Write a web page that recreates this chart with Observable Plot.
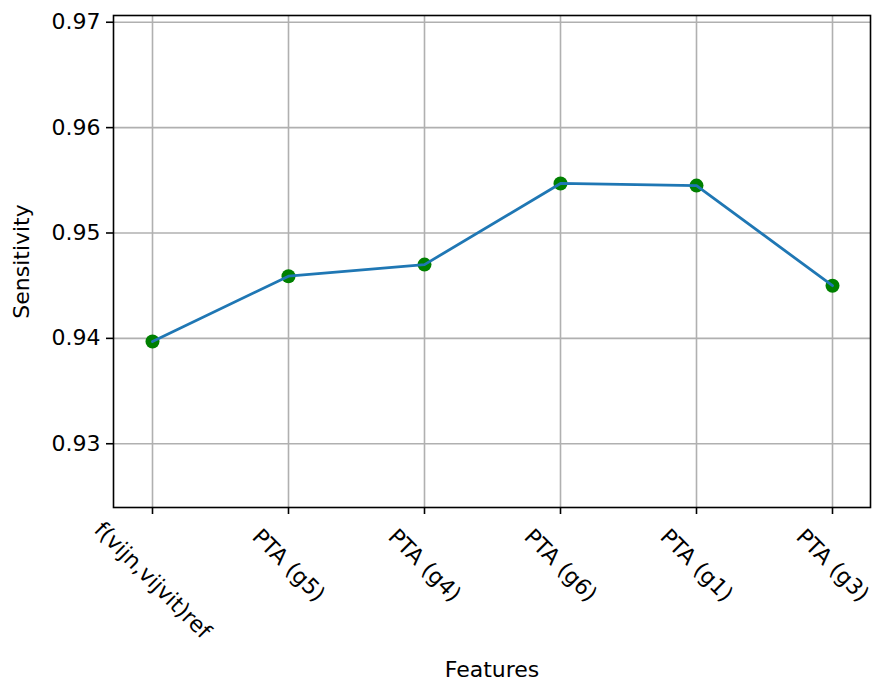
<!DOCTYPE html>
<html>
<head>
<meta charset="utf-8">
<script src="https://cdn.jsdelivr.net/npm/d3@7"></script>
<script src="https://cdn.jsdelivr.net/npm/@observablehq/plot@0.6"></script>
<style>
  html, body { margin: 0; padding: 0; background: #fff; }
  #chart { width: 878px; height: 681px; }
</style>
</head>
<body>
<div id="chart"></div>
<script>
const categories = ["f(vijn,vijvit)ref", "PTA (g5)", "PTA (g4)", "PTA (g6)", "PTA (g1)", "PTA (g3)"];
const sensitivity = [0.9397, 0.9459, 0.9470, 0.9547, 0.9545, 0.9450];
const yTicks = [0.93, 0.94, 0.95, 0.96, 0.97];
const yDomain = [0.92395, 0.97064];
const xLabel = "Features";
const yLabel = "Sensitivity";

const data = categories.map((c, i) => ({feature: c, value: sensitivity[i]}));

const font = "DejaVu Sans, sans-serif";
const fs = 22;

const chart = Plot.plot({
  width: 878,
  height: 681,
  marginLeft: 113,
  marginRight: 8,
  marginTop: 15,
  marginBottom: 174,
  style: {fontFamily: font, fontSize: fs + "px", color: "#000", background: "#fff"},
  x: {type: "point", domain: categories, padding: 0.265},
  y: {domain: yDomain},
  marks: [
    Plot.gridY(yTicks, {stroke: "#b0b0b0", strokeOpacity: 1, strokeWidth: 1.6}),
    Plot.gridX(categories, {stroke: "#b0b0b0", strokeOpacity: 1, strokeWidth: 1.6}),
    Plot.dot(data, {x: "feature", y: "value", r: 7, fill: "green", stroke: "none"}),
    Plot.line(data, {x: "feature", y: "value", stroke: "#1f77b4", strokeWidth: 2.8}),
    Plot.frame({stroke: "#000", strokeWidth: 1.6}),
    Plot.axisY({ticks: yTicks, tickFormat: d3.format(".2f"), tickSize: 7, tickPadding: 6, strokeWidth: 1.6,
      label: yLabel, labelAnchor: "center", labelOffset: 100, labelArrow: "none", fontSize: fs}),
    Plot.axisX({ticks: categories, tickSize: 7, strokeWidth: 1.6, fill: "none", label: null}),
    Plot.axisX({ticks: categories.slice(0, 1), tickSize: 0, tickPadding: 73, tickRotate: 45,
      textAnchor: "middle", lineAnchor: "middle", label: null, fontSize: fs}),
    Plot.axisX({ticks: categories.slice(1), tickSize: 0, tickPadding: 58, tickRotate: 45,
      textAnchor: "middle", lineAnchor: "middle", fontSize: fs,
      label: xLabel, labelAnchor: "center", labelOffset: 169, labelArrow: "none"})
  ]
});

document.getElementById("chart").appendChild(chart);
</script>
</body>
</html>
